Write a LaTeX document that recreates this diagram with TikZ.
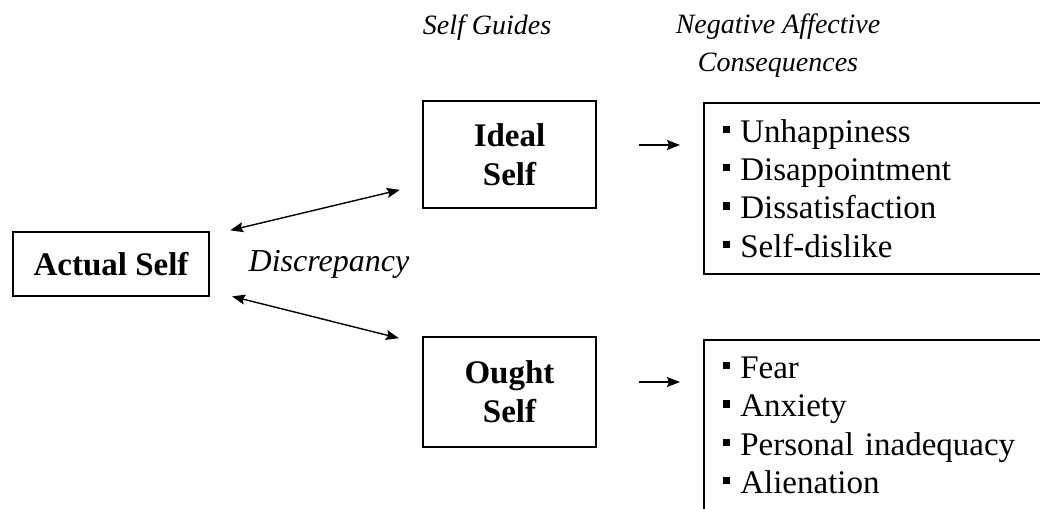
\documentclass[tikz,border=0pt]{standalone}
\usepackage{fontspec}
\setmainfont{Liberation Serif}
\usetikzlibrary{arrows.meta,positioning}
\newcommand{\sqitem}{\rule[9pt]{7.5pt}{7.5pt}\hspace{10pt}}

\begin{document}
\begin{tikzpicture}[x=1pt,y=-1pt,node distance=237.5pt]
\tikzstyle{selfbox}=[draw,line width=1.6pt,align=center,font=\fontsize{33}{39}\selectfont\bfseries]
\tikzstyle{listbox}=[draw,line width=1.6pt,anchor=north west,align=left,text width=320pt,inner xsep=19pt,minimum height=171pt,font=\fontsize{33}{38.3}\selectfont]
\tikzstyle{heading}=[font=\fontsize{28}{38}\selectfont\itshape,align=center]
\tikzstyle{link}=[line width=1.4pt,>={Stealth[length=13pt,width=10pt,inset=2pt]}]
\path[use as bounding box,clip] (0,0) rectangle (1040,508);
\fill[white] (0,0) rectangle (1040,508);
% the three selves
\node [selfbox,minimum width=196pt,minimum height=64pt] (actual) at (111,264) {Actual Self};
\node [selfbox,minimum width=173pt,minimum height=107pt] (ideal) at (509.5,154.5) {Ideal\\Self};
\node [selfbox,minimum width=173pt,minimum height=110pt,below of = ideal] (ought) {Ought\\Self};
% consequences
\node [listbox] (idealcons) at (703,102) {\sqitem Unhappiness\\ \sqitem Disappointment\\ \sqitem Dissatisfaction\\ \sqitem Self-dislike};
\node [listbox] (oughtcons) at (703,339) {\sqitem Fear\\ \sqitem Anxiety\\ \sqitem Personal inadequacy\\ \sqitem Alienation};
% headings
\node [heading] (guides) at (487,28) {Self Guides};
\node [heading] (affect) at (778,46) {Negative Affective\\Consequences};
\node [font=\fontsize{32}{36}\selectfont\itshape] (discrepancy) at (329,264) {Discrepancy};
% arrows
\draw[link,<->,shorten <=21pt,shorten >=23pt]
    ([yshift=-4pt]actual.north east) -- ([yshift=-30pt]ideal.west);
\draw[link,<->,shorten <=23pt,shorten >=24pt]
    ([yshift=6pt]actual.south east) -- ([yshift=48pt]ought.west);
\draw[link,->,shorten <=42pt,shorten >=23pt]
    ([yshift=9.5pt]ideal.east) -- ([yshift=9.5pt]ideal.east -| idealcons.west);
\draw[link,->,shorten <=42pt,shorten >=23pt]
    ([yshift=10pt]ought.east) -- ([yshift=10pt]ought.east -| oughtcons.west);
\end{tikzpicture}
\end{document}
